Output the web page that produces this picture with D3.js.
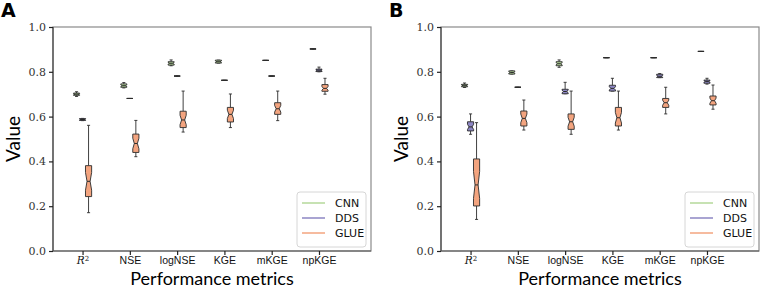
<!DOCTYPE html>
<html>

<head>
    <title>Performance metrics boxplots</title>
    <meta charset="utf-8">
    <style>
        body { margin: 0; background: #fff; }
    </style>
</head>
<script src="https://d3js.org/d3.v7.min.js"></script>

<body>
    <div id="chart"></div>
    <script>
        // categories and series
        const metrics = ["R2", "NSE", "logNSE", "KGE", "mKGE", "npKGE"];
        const models = ["CNN", "DDS", "GLUE"];
        const yTicks = [0.0, 0.2, 0.4, 0.6, 0.8, 1.0];
        const sampleSize = 30;

        // [whisker low, q1, median, q3, whisker high] per metric
        const cnnA = [
            [0.690, 0.695, 0.700, 0.705, 0.711],
            [0.728, 0.731, 0.738, 0.746, 0.752],
            [0.827, 0.830, 0.838, 0.845, 0.853],
            [0.839, 0.839, 0.845, 0.852, 0.852],
            [0.851, 0.851, 0.851, 0.851, 0.851],
            [0.902, 0.902, 0.902, 0.902, 0.902]
        ];
        const ddsA = [
            [0.582, 0.583, 0.587, 0.591, 0.592],
            [0.681, 0.681, 0.681, 0.681, 0.681],
            [0.781, 0.781, 0.781, 0.781, 0.781],
            [0.762, 0.762, 0.762, 0.762, 0.762],
            [0.781, 0.781, 0.781, 0.781, 0.781],
            [0.800, 0.801, 0.807, 0.812, 0.821]
        ];
        const glueA = [
            [0.171, 0.243, 0.311, 0.381, 0.561],
            [0.421, 0.440, 0.480, 0.522, 0.583],
            [0.531, 0.551, 0.585, 0.624, 0.714],
            [0.551, 0.576, 0.610, 0.641, 0.701],
            [0.582, 0.610, 0.635, 0.662, 0.714],
            [0.700, 0.713, 0.726, 0.743, 0.771]
        ];
        const cnnB = [
            [0.730, 0.733, 0.738, 0.744, 0.750],
            [0.790, 0.790, 0.797, 0.804, 0.804],
            [0.820, 0.827, 0.836, 0.845, 0.853],
            [0.863, 0.863, 0.863, 0.863, 0.863],
            [0.863, 0.863, 0.863, 0.863, 0.863],
            [0.891, 0.891, 0.891, 0.891, 0.891]
        ];
        const ddsB = [
            [0.521, 0.536, 0.554, 0.577, 0.612],
            [0.731, 0.731, 0.731, 0.731, 0.731],
            [0.702, 0.702, 0.712, 0.722, 0.753],
            [0.714, 0.714, 0.726, 0.740, 0.771],
            [0.774, 0.774, 0.780, 0.789, 0.792],
            [0.745, 0.749, 0.757, 0.763, 0.771]
        ];
        const glueB = [
            [0.141, 0.201, 0.295, 0.411, 0.573],
            [0.540, 0.558, 0.592, 0.625, 0.674],
            [0.521, 0.543, 0.577, 0.612, 0.714],
            [0.540, 0.558, 0.595, 0.641, 0.714],
            [0.612, 0.641, 0.662, 0.681, 0.731],
            [0.633, 0.652, 0.671, 0.692, 0.741]
        ];

        const COLOR = {
            CNN: "#b5d89a",
            DDS: "#8c86c3",
            GLUE: "#f3a47f"
        };
        const EDGE = "#2b2b2b";

        const width = 761, height = 288;
        const plotW = 318, plotH = 224;
        const boxW = 0.13, offsets = { CNN: -0.127, DDS: 0, GLUE: 0.127 };

        const svg = d3.select("#chart").append("svg")
            .attr("width", width)
            .attr("height", height)
            .style("font-family", "'DejaVu Sans', sans-serif");

        const x = d3.scaleLinear().domain([0.375, 7.1]).range([0, plotW]);
        const y = d3.scaleLinear().domain([0, 1]).range([plotH, 0]);

        function drawPanel(letter, left, series) {
            const g = svg.append("g").attr("transform", "translate(" + left + ",27)");

            // frame
            g.append("rect")
                .attr("width", plotW).attr("height", plotH)
                .attr("fill", "none").attr("stroke", "#8a8a8a").attr("stroke-width", 1.2);
            g.append("line").attr("x1", 0).attr("x2", 0).attr("y1", 0).attr("y2", plotH)
                .attr("stroke", "#444").attr("stroke-width", 1.2);
            g.append("line").attr("x1", 0).attr("x2", plotW).attr("y1", plotH).attr("y2", plotH)
                .attr("stroke", "#555").attr("stroke-width", 1.2);

            // y axis
            const ya = g.append("g")
                .call(d3.axisLeft(y).tickValues(yTicks).tickFormat(d3.format(".1f")).tickSize(4).tickPadding(3));
            ya.select(".domain").remove();
            ya.selectAll("line").attr("stroke", "#222").attr("stroke-width", 1.2);
            ya.selectAll("text").attr("fill", "#333")
                .style("font-family", "'DejaVu Serif', serif").style("font-size", "11px");

            // x axis
            const xa = g.append("g")
                .attr("transform", "translate(0," + plotH + ")")
                .call(d3.axisBottom(x).tickValues(d3.range(1, metrics.length + 1))
                    .tickFormat(d => metrics[d - 1]).tickSize(4).tickPadding(2));
            xa.select(".domain").remove();
            xa.selectAll("line").attr("stroke", "#222").attr("stroke-width", 1.2);
            xa.selectAll("text").attr("fill", "#111").style("font-size", "10.5px");
            xa.selectAll("text").filter(d => d === 1).each(function () {
                const t = d3.select(this).text("");
                t.append("tspan").text("R")
                    .style("font-family", "'DejaVu Serif', serif").style("font-style", "italic");
                t.append("tspan").text("2").attr("dy", "-0.45em")
                    .style("font-family", "'DejaVu Serif', serif").style("font-size", "7px");
            });

            // boxes
            models.forEach(function (m) {
                const rows = series[m].map((s, i) => ({ pos: i + 1 + offsets[m], s: s }));
                const b = g.append("g").selectAll("g").data(rows).enter().append("g");

                b.append("line")
                    .attr("x1", d => x(d.pos)).attr("x2", d => x(d.pos))
                    .attr("y1", d => y(d.s[0])).attr("y2", d => y(d.s[1]))
                    .attr("stroke", EDGE).attr("stroke-width", 0.9);
                b.append("line")
                    .attr("x1", d => x(d.pos)).attr("x2", d => x(d.pos))
                    .attr("y1", d => y(d.s[3])).attr("y2", d => y(d.s[4]))
                    .attr("stroke", EDGE).attr("stroke-width", 0.9);
                [0, 4].forEach(function (k) {
                    b.append("line")
                        .attr("x1", d => x(d.pos - boxW / 4)).attr("x2", d => x(d.pos + boxW / 4))
                        .attr("y1", d => y(d.s[k])).attr("y2", d => y(d.s[k]))
                        .attr("stroke", EDGE).attr("stroke-width", 0.9);
                });

                // notched box, same shape as matplotlib
                b.append("path")
                    .attr("d", function (d) {
                        const [lo, q1, med, q3, hi] = d.s;
                        const n = 1.57 * (q3 - q1) / Math.sqrt(sampleSize);
                        const bl = x(d.pos - boxW / 2), br = x(d.pos + boxW / 2);
                        const cl = x(d.pos - boxW / 4), cr = x(d.pos + boxW / 4);
                        const pts = [[bl, q1], [br, q1], [br, med - n], [cr, med], [br, med + n],
                            [br, q3], [bl, q3], [bl, med + n], [cl, med], [bl, med - n], [bl, q1]];
                        return d3.line()(pts.map(p => [p[0], y(p[1])])) + "Z";
                    })
                    .attr("fill", COLOR[m]).attr("stroke", EDGE).attr("stroke-width", 0.9);

                b.append("line")
                    .attr("x1", d => x(d.pos - boxW / 4)).attr("x2", d => x(d.pos + boxW / 4))
                    .attr("y1", d => y(d.s[2])).attr("y2", d => y(d.s[2]))
                    .attr("stroke", EDGE).attr("stroke-width", 1);
            });

            // legend
            const lg = g.append("g").attr("transform", "translate(" + (plotW - 74) + "," + (plotH - 59) + ")");
            lg.append("rect").attr("width", 69).attr("height", 55).attr("rx", 3)
                .attr("fill", "#fff").attr("stroke", "#d6d6d6").attr("stroke-width", 1);
            models.forEach(function (m, i) {
                lg.append("line").attr("x1", 5).attr("x2", 28)
                    .attr("y1", 11 + i * 15).attr("y2", 11 + i * 15)
                    .attr("stroke", COLOR[m]).attr("stroke-width", 1.5);
                lg.append("text").attr("x", 38).attr("y", 15 + i * 15)
                    .style("font-size", "11px").attr("fill", "#111").text(m);
            });

            // labels
            svg.append("text")
                .attr("x", left + plotW / 2).attr("y", 285)
                .attr("text-anchor", "middle")
                .style("font-family", "Lato, sans-serif").style("font-size", "18px")
                .text("Performance metrics");
            svg.append("text")
                .attr("transform", "translate(" + (left - 33) + "," + (27 + plotH / 2) + ")rotate(-90)")
                .attr("text-anchor", "middle")
                .style("font-family", "Lato, sans-serif").style("font-size", "19px")
                .text("Value");
            svg.append("text")
                .attr("x", left - 52).attr("y", 17)
                .style("font-size", "19px").style("font-weight", "bold")
                .text(letter);
        }

        drawPanel("A", 53, { CNN: cnnA, DDS: ddsA, GLUE: glueA });
        drawPanel("B", 441, { CNN: cnnB, DDS: ddsB, GLUE: glueB });
    </script>
</body>

</html>
